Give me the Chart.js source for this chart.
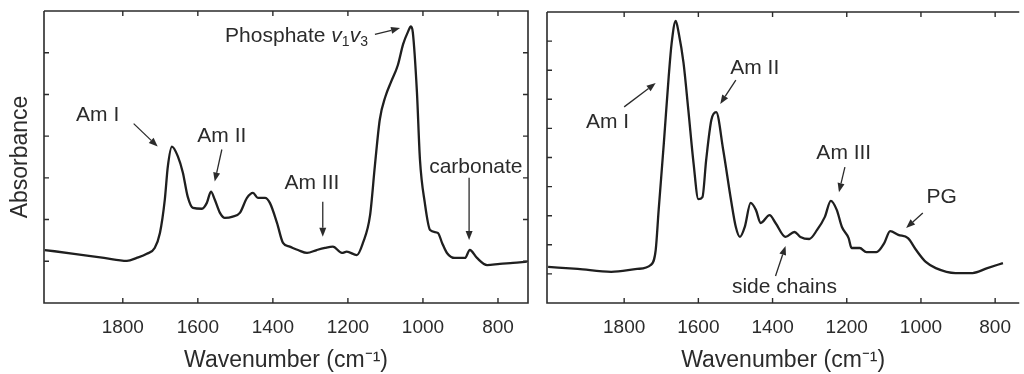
<!DOCTYPE html>
<html>
<head>
<meta charset="utf-8">
<script src="https://cdn.jsdelivr.net/npm/chart.js@4.4.0/dist/chart.umd.min.js"></script>
<style>
    html, body { margin: 0; padding: 0; background: #fff; }
    #wrap { position: relative; width: 1024px; height: 374px; overflow: hidden; }
    #left-chart { position: absolute; left: 0; top: 0; }
    #right-chart { position: absolute; left: 535px; top: 0; }
</style>
</head>
<body>
<div id="wrap">
    <canvas id="left-chart" width="535" height="374"></canvas>
    <canvas id="right-chart" width="489" height="374"></canvas>
</div>
<script>
// Spectrum data (wavenumber in cm-1, absorbance in arbitrary units)
const leftWavenumber = [2008, 1930, 1850, 1789, 1763, 1736, 1715, 1701, 1688, 1680,
    1669, 1653, 1640, 1627, 1613, 1589, 1576, 1565, 1555, 1541,
    1528, 1507, 1488, 1469, 1453, 1440, 1421, 1408, 1389, 1373,
    1355, 1333, 1309, 1283, 1261, 1240, 1216, 1203, 1176, 1160,
    1141, 1128, 1115, 1100, 1085, 1067, 1053, 1040, 1032, 1027,
    1016, 1008, 995, 981, 960, 949, 936, 915, 888, 875,
    856, 829, 795, 760, 723];
const leftAbsorbance = [1.27, 1.18, 1.08, 1.01, 1.08, 1.18, 1.32, 1.68, 2.48, 3.27,
    3.75, 3.51, 3.13, 2.55, 2.28, 2.26, 2.40, 2.67, 2.48, 2.16,
    2.04, 2.07, 2.16, 2.52, 2.64, 2.52, 2.52, 2.40, 1.92, 1.44,
    1.35, 1.27, 1.20, 1.27, 1.32, 1.35, 1.20, 1.23, 1.15, 1.44,
    2.1, 3.3, 4.4, 4.95, 5.3, 5.7, 6.2, 6.5, 6.63, 6.49,
    5.05, 3.44, 2.40, 1.75, 1.68, 1.44, 1.20, 1.08, 1.08, 1.27,
    1.08, 0.91, 0.94, 0.96, 0.99];

const rightWavenumber = [2005, 1925, 1835, 1765, 1728, 1715, 1707, 1693, 1680, 1672,
    1661, 1653, 1640, 1627, 1613, 1600, 1589, 1579, 1565, 1552,
    1533, 1512, 1499, 1488, 1475, 1459, 1445, 1432, 1408, 1392,
    1365, 1341, 1325, 1301, 1280, 1259, 1243, 1227, 1213, 1195,
    1187, 1165, 1147, 1120, 1099, 1083, 1061, 1035, 1013, 987,
    960, 907, 861, 821, 779];
const rightAbsorbance = [1.24, 1.17, 1.07, 1.17, 1.31, 1.82, 3.20, 5.50, 7.77, 8.93,
    9.69, 9.28, 8.25, 6.63, 4.81, 3.57, 3.64, 4.91, 6.29, 6.56,
    5.26, 3.54, 2.61, 2.27, 2.61, 3.44, 3.20, 2.75, 3.02, 2.75,
    2.27, 2.44, 2.27, 2.20, 2.51, 2.96, 3.51, 3.20, 2.61, 2.23,
    1.89, 1.89, 1.75, 1.75, 2.06, 2.47, 2.34, 2.23, 1.82, 1.41,
    1.20, 1.03, 1.03, 1.20, 1.37];

// Tick values
const xTickValues = [1800, 1600, 1400, 1200, 1000, 800];
const leftYTicks = [1, 2, 3, 4, 5, 6];
const rightYTicks = [1, 2, 3, 4, 5, 6, 7, 8, 9];

// Peak labels, placed in data units [wavenumber, absorbance]
const leftLabels = [
    { text: 'Am I', at: [1867, 4.50] },
    { text: 'Am II', at: [1536, 4.01] },
    { text: 'Am III', at: [1296, 2.86] },
    { parts: [['Phosphate ', ''], ['v', 'i'], ['1', 's'], ['v', 'i'], ['3', 's']], at: [1337, 6.39] },
    { text: 'carbonate', at: [859, 3.25] }
];
const leftArrows = [
    [1771, 4.30, 1707, 3.75],
    [1536, 3.68, 1555, 2.91],
    [1267, 2.43, 1267, 1.59],
    [1128, 6.44, 1061, 6.59],
    [877, 3.00, 877, 1.51]
];
const rightLabels = [
    { text: 'Am I', at: [1845, 6.22] },
    { text: 'Am II', at: [1448, 8.08] },
    { text: 'Am III', at: [1208, 5.15] },
    { text: 'PG', at: [944, 3.64] },
    { text: 'side chains', at: [1368, 0.55] }
];
const rightArrows = [
    [1800, 6.74, 1715, 7.56],
    [1499, 7.66, 1541, 6.84],
    [1205, 4.67, 1221, 3.81],
    [995, 3.09, 1040, 2.58],
    [1392, 0.93, 1365, 1.96]
];

const FONT = "'Liberation Sans', Arial, Helvetica, sans-serif";
const INK = '#2b2b2b';

function toPoints(xs, ys) {
    return xs.map((x, i) => ({ x: x, y: ys[i] }));
}

// Frame with inward tick marks
const framePlugin = {
    id: 'frame',
    afterDatasetsDraw(chart, args, opts) {
        const { ctx, chartArea: a, scales } = chart;
        ctx.save();
        ctx.strokeStyle = INK;
        ctx.lineWidth = 1.6;
        ctx.beginPath();
        ctx.moveTo(a.left, a.top);
        ctx.lineTo(a.left, a.bottom);
        ctx.lineTo(a.right, a.bottom);
        if (opts.right) {
            ctx.lineTo(a.right, a.top);
        } else {
            ctx.moveTo(a.right, a.top);
        }
        ctx.lineTo(a.left, a.top);
        ctx.stroke();

        ctx.lineWidth = 1.4;
        ctx.beginPath();
        scales.x.ticks.forEach(t => {
            const px = scales.x.getPixelForValue(t.value);
            ctx.moveTo(px, a.bottom);
            ctx.lineTo(px, a.bottom - 5);
            ctx.moveTo(px, a.top);
            ctx.lineTo(px, a.top + 5);
        });
        scales.y.ticks.forEach(t => {
            const py = scales.y.getPixelForValue(t.value);
            ctx.moveTo(a.left, py);
            ctx.lineTo(a.left + 5, py);
            if (opts.right) {
                ctx.moveTo(a.right, py);
                ctx.lineTo(a.right - 5, py);
            }
        });
        ctx.stroke();
        ctx.restore();
    }
};

// Peak labels and arrows
const notesPlugin = {
    id: 'notes',
    afterDatasetsDraw(chart, args, opts) {
        const { ctx, scales } = chart;
        const sx = v => scales.x.getPixelForValue(v);
        const sy = v => scales.y.getPixelForValue(v);
        ctx.save();
        ctx.fillStyle = INK;
        ctx.strokeStyle = INK;
        ctx.textBaseline = 'middle';

        opts.labels.forEach(l => {
            const cx = sx(l.at[0]);
            const cy = sy(l.at[1]);
            if (l.text) {
                ctx.font = '21px ' + FONT;
                ctx.textAlign = 'center';
                ctx.fillText(l.text, cx, cy);
                return;
            }
            // rich text: plain, italic, subscript
            const fontFor = k => k === 'i' ? 'italic 21px ' + FONT : (k === 's' ? '14px ' + FONT : '21px ' + FONT);
            let total = 0;
            l.parts.forEach(p => { ctx.font = fontFor(p[1]); total += ctx.measureText(p[0]).width; });
            let x = cx - total / 2;
            ctx.textAlign = 'left';
            l.parts.forEach(p => {
                ctx.font = fontFor(p[1]);
                ctx.fillText(p[0], x, p[1] === 's' ? cy + 6 : cy);
                x += ctx.measureText(p[0]).width;
            });
        });

        opts.arrows.forEach(ar => {
            const x1 = sx(ar[0]), y1 = sy(ar[1]);
            const x2 = sx(ar[2]), y2 = sy(ar[3]);
            const ang = Math.atan2(y2 - y1, x2 - x1);
            const head = 9, half = 3.5;
            const bx = x2 - head * Math.cos(ang), by = y2 - head * Math.sin(ang);
            ctx.lineWidth = 1.3;
            ctx.beginPath();
            ctx.moveTo(x1, y1);
            ctx.lineTo(bx, by);
            ctx.stroke();
            ctx.beginPath();
            ctx.moveTo(x2, y2);
            ctx.lineTo(bx + half * Math.sin(ang), by - half * Math.cos(ang));
            ctx.lineTo(bx - half * Math.sin(ang), by + half * Math.cos(ang));
            ctx.closePath();
            ctx.fill();
        });
        ctx.restore();
    }
};

function makeSpectrum(canvasId, cfg) {
    const ctx = document.getElementById(canvasId).getContext('2d');
    return new Chart(ctx, {
        type: 'line',
        data: {
            datasets: [{
                data: toPoints(cfg.xs, cfg.ys),
                borderColor: '#1f1f1f',
                borderWidth: 2.3,
                pointRadius: 0,
                fill: false,
                cubicInterpolationMode: 'monotone'
            }]
        },
        options: {
            responsive: false,
            animation: false,
            layout: { padding: cfg.padding },
            plugins: {
                legend: { display: false },
                tooltip: { enabled: false },
                frame: { right: cfg.rightBorder },
                notes: { labels: cfg.labels, arrows: cfg.arrows }
            },
            scales: {
                x: {
                    type: 'linear',
                    reverse: true,
                    min: cfg.xMin,
                    max: cfg.xMax,
                    grid: { display: false, drawTicks: false },
                    border: { display: false },
                    afterBuildTicks: scale => { scale.ticks = xTickValues.map(v => ({ value: v })); },
                    ticks: {
                        color: INK,
                        padding: 13,
                        maxRotation: 0,
                        font: { family: FONT, size: 19 },
                        callback: value => String(value)
                    },
                    title: {
                        display: true,
                        text: 'Wavenumber (cm\u207B\u00B9)',
                        color: INK,
                        font: { family: FONT, size: 23 },
                        padding: { top: 0, bottom: 0 }
                    },
                    afterFit: scale => { scale.height = 71; }
                },
                y: {
                    min: 0,
                    max: cfg.yMax,
                    grid: { display: false, drawTicks: false },
                    border: { display: false },
                    afterBuildTicks: scale => { scale.ticks = cfg.yTicks.map(v => ({ value: v })); },
                    ticks: { display: false },
                    title: {
                        display: cfg.yTitle,
                        text: 'Absorbance',
                        color: INK,
                        font: { family: FONT, size: 23 },
                        padding: { top: 7, bottom: 0 }
                    },
                    afterFit: scale => { scale.width = cfg.yWidth; }
                }
            }
        },
        plugins: [framePlugin, notesPlugin]
    });
}

makeSpectrum('left-chart', {
    xs: leftWavenumber, ys: leftAbsorbance,
    xMin: 720, xMax: 2010, yMax: 7, yTicks: leftYTicks,
    yTitle: true, yWidth: 44, rightBorder: true,
    padding: { top: 11, right: 7, left: 0, bottom: 0 },
    labels: leftLabels, arrows: leftArrows
});

makeSpectrum('right-chart', {
    xs: rightWavenumber, ys: rightAbsorbance,
    xMin: 735, xMax: 2008, yMax: 10, yTicks: rightYTicks,
    yTitle: false, yWidth: 12, rightBorder: false,
    padding: { top: 12, right: 0, left: 0, bottom: 0 },
    labels: rightLabels, arrows: rightArrows
});
</script>
</body>
</html>
